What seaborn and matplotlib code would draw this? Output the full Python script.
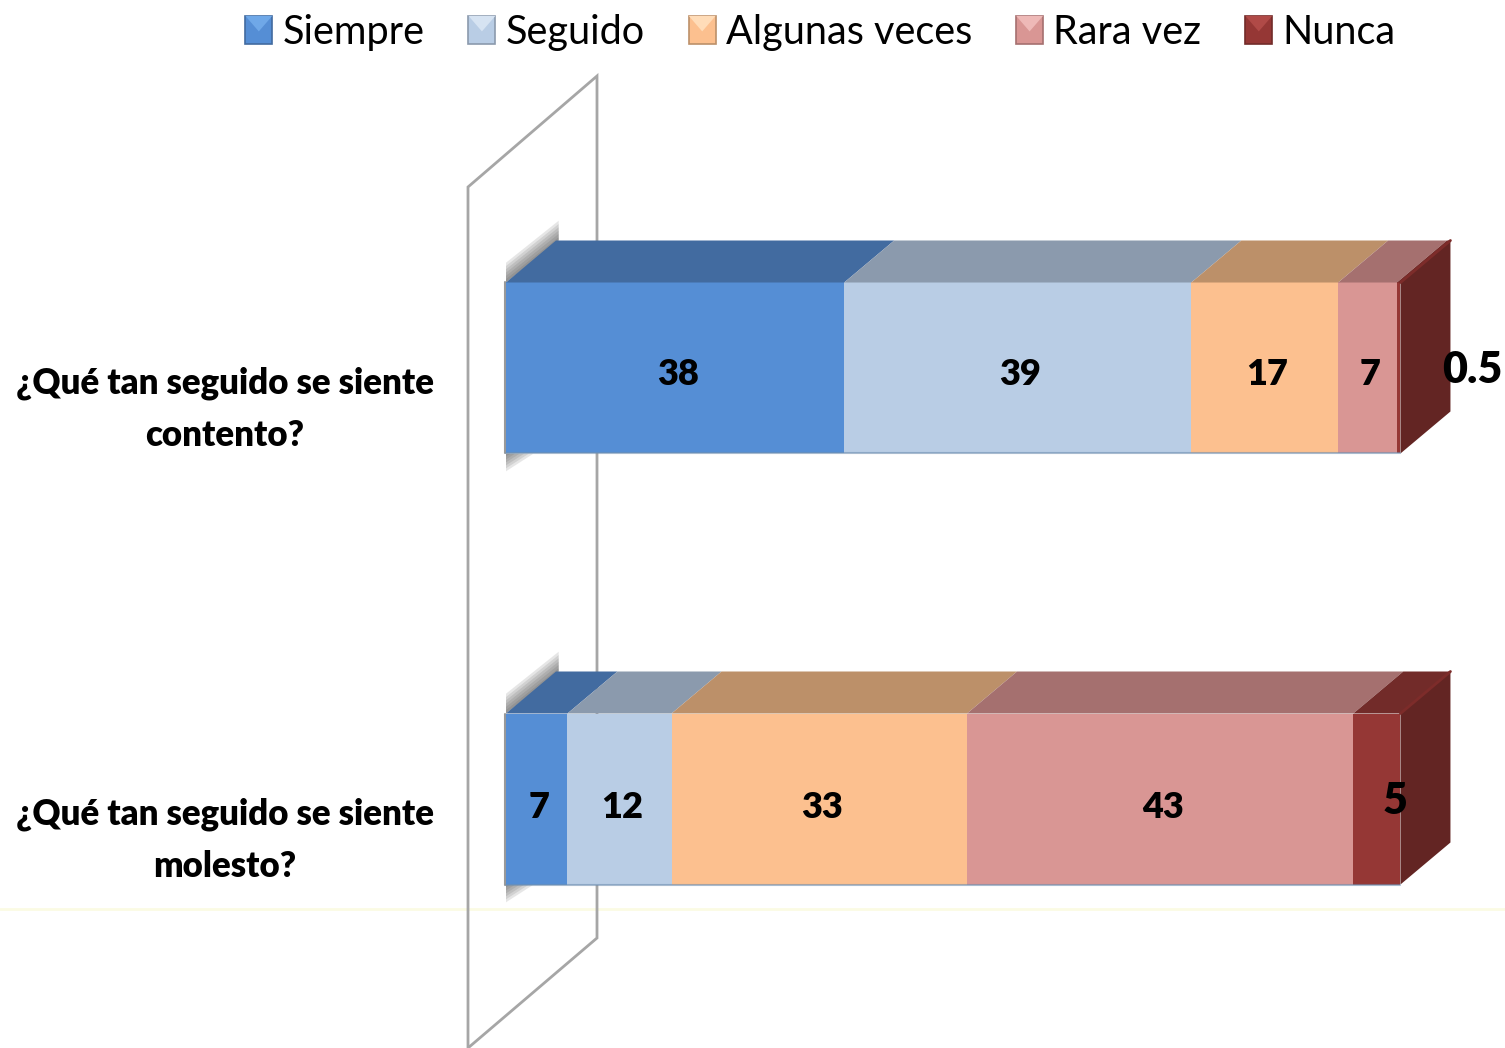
import numpy as np
import pandas as pd
import seaborn as sns
import matplotlib.pyplot as plt
from matplotlib.legend_handler import HandlerBase
from matplotlib.patches import Patch, Polygon, Rectangle

questions = ["¿Qué tan seguido se siente\ncontento?", "¿Qué tan seguido se siente\nmolesto?"]
series = ["Siempre", "Seguido", "Algunas veces", "Rara vez", "Nunca"]
# bar lengths as measured, the printed labels are rounded
contento = [38, 39, 16.5, 6.6, 0.4]
molesto = [6.9, 11.7, 33.2, 43.4, 5.3]
value_labels = [["38", "39", "17", "7", "0.5"], ["7", "12", "33", "43", "5"]]

front = ["#558ed5", "#b9cde5", "#fcc08f", "#d99694", "#953735"]
top = ["#426ba0", "#8b9aad", "#bc9069", "#a5706f", "#722b29"]
light = ["#6fa8e8", "#d6e3f2", "#ffdcb8", "#eeb9b7", "#b04a47"]
side = "#632523"

sns.set_theme(style="white")
plt.rcParams["font.family"] = ["Lato", "DejaVu Sans"]

W, H = 1505, 1048
px_x = 8.9    # pixels per unit on the value axis
px_y = 431    # pixels between the two bars
x0, y0 = 506, 368
dx, dy = 50 / px_x, 42 / px_y   # depth of the 3d look
bar_h = 171 / px_y


class BevelHandler(HandlerBase):
    # small square with a lighter wedge on top, like the 3d legend keys
    def create_artists(self, legend, orig, xd, yd, w, h, fontsize, trans):
        xa, ya = -xd, -yd
        box = Rectangle((xa, ya), w, h, fc=orig.get_facecolor(), ec=orig.get_edgecolor(), lw=1.2, transform=trans)
        wedge = Polygon([(xa, ya + h), (xa + w, ya + h), (xa + w / 2, ya + h * 0.45)], fc=light[series.index(orig.get_label())],
                        ec="none", transform=trans)
        return [box, wedge]


fig = plt.figure(figsize=(W / 100, H / 100), dpi=100)
ax = fig.add_axes([0, 0, 1, 1])

vals = np.array([contento, molesto])
cum = vals.cumsum(axis=1)

# stacked bars: cumulative totals drawn from the longest to the shortest
for i in range(len(series) - 1, -1, -1):
    d = pd.DataFrame({"q": questions, "v": cum[:, i]})
    sns.barplot(data=d, x="v", y="q", orient="h", color=front[i], saturation=1,
                width=bar_h, linewidth=0, zorder=3, ax=ax)

ax.set_xlim(-x0 / px_x, (W - x0) / px_x)
ax.set_ylim((H - y0) / px_y, -y0 / px_y)
ax.axis("off")

# wall behind the bars
wall = [(468, 187), (597, 76), (597, 938), (468, 1048)]
ax.add_patch(Polygon([((a - x0) / px_x, (b - y0) / px_y) for a, b in wall], closed=True,
                     fc="none", ec="#a6a6a6", lw=2, zorder=1))
ax.axhline((909 - y0) / px_y, color="#fbfbe3", lw=2, zorder=0)

for r in range(2):
    t, b = r - bar_h / 2, r + bar_h / 2
    # soft shadow at the back corners
    for k in range(1, 7):
        o = k * 3.3
        ax.add_patch(Polygon([(0, t), (0, t - o / px_y), (dx + 0.3, t - dy - o / px_y), (dx + 0.3, t - dy)],
                             fc="#444444", ec="none", alpha=0.13, zorder=2))
        ax.add_patch(Polygon([(0, b), (0, b + o * 0.9 / px_y), (o * 1.4 / px_x, b)],
                             fc="#444444", ec="none", alpha=0.13, zorder=2))
    ax.plot([-0.1, -0.1], [t, b], color="#999999", lw=1.5, zorder=2)
    lefts = np.r_[0, cum[r, :-1]]
    for i in range(len(series)):
        ax.add_patch(Polygon([(lefts[i], t), (cum[r, i], t), (cum[r, i] + dx, t - dy), (lefts[i] + dx, t - dy)],
                             fc=top[i], ec="none", zorder=4))
    e = cum[r, -1]
    ax.add_patch(Polygon([(e, t), (e + dx, t - dy), (e + dx, b - dy), (e, b)], fc=side, ec="none", zorder=4))
    ax.plot([e, e + dx], [t, t - dy], color="#7d2c2a", lw=2, zorder=5)
    ax.plot([0, e], [b, b], color="#6f8fb0", lw=1.5, alpha=0.6, zorder=5)

    # value labels
    for i in range(len(series)):
        xp = (lefts[i] + cum[r, i]) / 2 + 0.3
        yp = r + (7 + 2 * r) / px_y
        size = 26
        if i == len(series) - 1:
            size = 31
            xp = e + (72 / px_x if r == 0 else -5 / px_x)
            yp = r + 2 / px_y
        ax.text(xp, yp, value_labels[r][i], ha="center", va="center", fontsize=size,
                fontweight="heavy", color="black", zorder=6)
    # question labels
    ax.text((225 - x0) / px_x, r + 41 / px_y, questions[r], ha="center", va="center",
            fontsize=25, fontweight="heavy", color="black", linespacing=1.7)

handles = [Patch(fc=front[i], ec=top[i], lw=1, label=series[i]) for i in range(len(series))]
fig.legend(handles=handles, ncols=5, loc="upper left", bbox_to_anchor=(229.5 / W, 1 + 2 / H), frameon=False,
           fontsize=28.5, handlelength=0.68, handleheight=0.72, handletextpad=0.26,
           columnspacing=1.11, labelcolor="black", borderaxespad=0,
           handler_map={Patch: BevelHandler()})

fig.savefig("out.png", dpi=100)
